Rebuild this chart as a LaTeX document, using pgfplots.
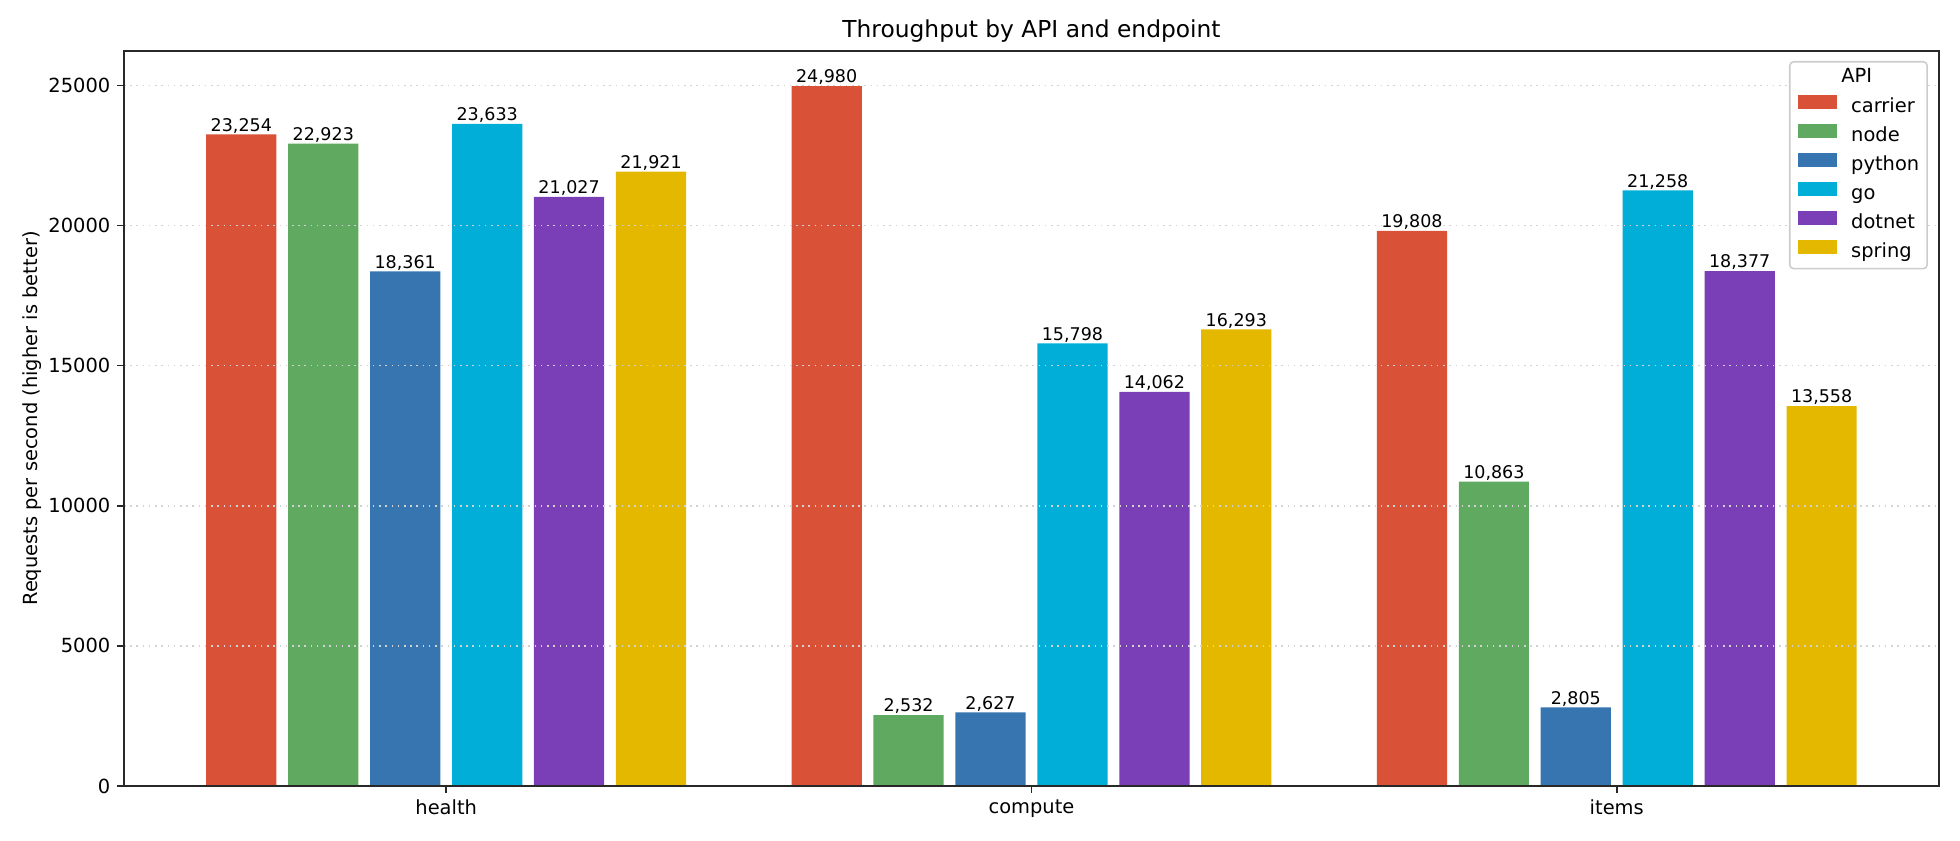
\documentclass[border=0pt]{standalone}
\usepackage{pgfplots}
\pgfplotsset{compat=1.18}
\usepackage{fontspec}
\setmainfont{DejaVu Sans}

\definecolor{cCarrier}{RGB}{217,81,55}
\definecolor{cNode}{RGB}{96,169,96}
\definecolor{cPython}{RGB}{54,117,176}
\definecolor{cGo}{RGB}{0,174,216}
\definecolor{cDotnet}{RGB}{122,62,182}
\definecolor{cSpring}{RGB}{229,184,0}
\definecolor{spine}{RGB}{40,40,40}

% filled swatch used for every bar series in the legend (with the gap to its label)
\pgfplotsset{swatch/.style={legend image code/.code={%
  \fill[##1, draw=none, sharp corners] (0pt,-0.8pt) rectangle (20pt,6.2pt);
  \path (27.5pt,0pt);}}}

\begin{document}
\begin{tikzpicture}
\useasboundingbox (0,0) rectangle (1008pt,432pt);
\begin{axis}[
  at={(63.77pt,27.77pt)}, anchor=south west,
  scale only axis, width=933.4pt, height=378pt,
  ybar, bar width=0.12,
  xmin=-0.5505, xmax=2.5505, ymin=0, ymax=26229,
  xtick={0,1,2}, xticklabels={health,compute,items},
  ytick={0,5000,10000,15000,20000,25000},
  scaled y ticks=false,
  /pgf/number format/assume math mode=true,
  yticklabel style={/pgf/number format/1000 sep={}},
  tick pos=left, tick align=outside, major tick length=3.5pt,
  every tick/.style={spine, line width=0.8pt},
  axis line style={spine, line width=0.8pt},
  ymajorgrids,
  major grid style={gray!35, line width=0.8pt, dash pattern=on 0.8pt off 2.4pt},
  axis on top,
  tick label style={font=\fontsize{10}{12}\selectfont},
  title={Throughput by API and endpoint},
  title style={font=\fontsize{12}{14}\selectfont, at={(0.5,1)}, anchor=base, yshift=0.7pt, inner sep=0pt},
  ylabel={Requests per second (higher is better)},
  ylabel style={font=\fontsize{10}{12}\selectfont, at={(axis description cs:-0.0452,0.5)}, anchor=south, inner sep=0pt},
  nodes near coords={\pgfmathprintnumber[fixed, precision=0, 1000 sep={,}]{\pgfplotspointmeta}},
  nodes near coords style={font=\fontsize{9}{10}\selectfont, inner sep=0pt, anchor=base, yshift=1.7pt},
  legend style={at={(rel axis cs:1,1)}, anchor=north east, xshift=-5.66pt, yshift=-5.14pt,
    draw=gray!40, line width=0.8pt, rounded corners=2pt, fill=white,
    inner xsep=4.1pt, inner ysep=3.6pt, row sep=4.0pt,
    font=\fontsize{10}{12}\selectfont,
    nodes={inner sep=0pt, text height=7.3pt, text depth=2.2pt}},
  legend cell align=left,
]
\addlegendimage{empty legend}
\addlegendentry{\hspace*{-5.1pt}API}

\addplot[fill=cCarrier, draw=none, bar shift=-0.35, swatch] coordinates {(0,23254) (1,24980) (2,19808)};
\addlegendentry{carrier}
\addplot[fill=cNode, draw=none, bar shift=-0.21, swatch] coordinates {(0,22923) (1,2532) (2,10863)};
\addlegendentry{node}
\addplot[fill=cPython, draw=none, bar shift=-0.07, swatch] coordinates {(0,18361) (1,2627) (2,2805)};
\addlegendentry{python}
\addplot[fill=cGo, draw=none, bar shift=0.07, swatch] coordinates {(0,23633) (1,15798) (2,21258)};
\addlegendentry{go}
\addplot[fill=cDotnet, draw=none, bar shift=0.21, swatch] coordinates {(0,21027) (1,14062) (2,18377)};
\addlegendentry{dotnet}
\addplot[fill=cSpring, draw=none, bar shift=0.35, swatch] coordinates {(0,21921) (1,16293) (2,13558)};
\addlegendentry{spring}
\end{axis}
\end{tikzpicture}
\end{document}
